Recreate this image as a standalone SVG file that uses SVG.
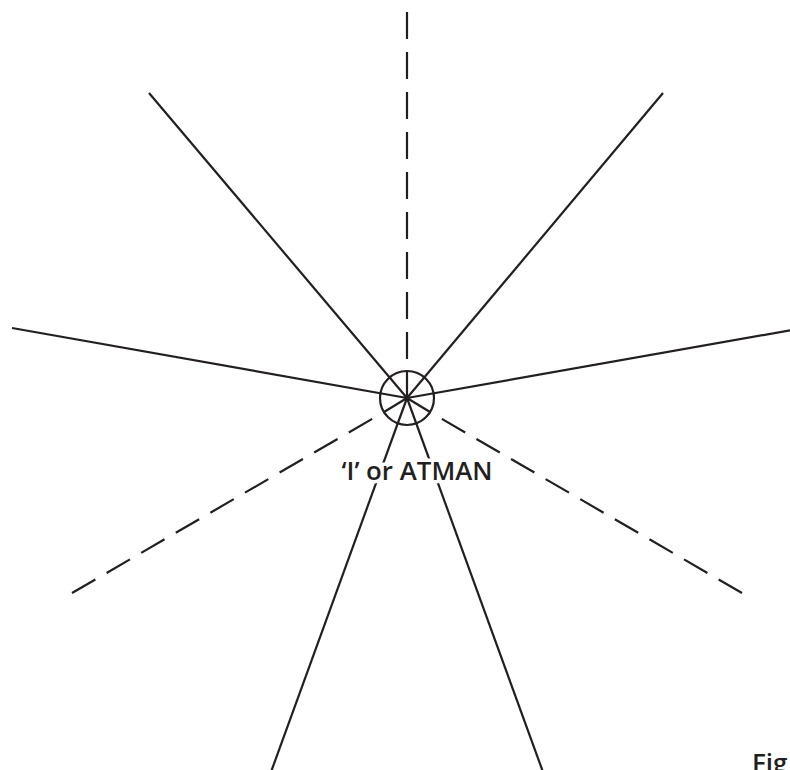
<svg xmlns="http://www.w3.org/2000/svg" width="790" height="770" viewBox="0 0 790 770">
<style>
.s{stroke:#231f20;stroke-width:2.2;fill:none;stroke-linecap:butt}
.d{stroke-dasharray:27 13}
.t{font-family:"Open Sans","Liberation Sans",Arial,sans-serif;font-weight:600;font-size:26px;fill:#231f20}
.h{stroke:#fff;stroke-width:7;stroke-linejoin:round;paint-order:stroke}
</style>
<rect width="790" height="770" fill="#fff"/>
<g id="connectors">
<line class="s" x1="149" y1="93" x2="407" y2="398"/>
<line class="s" x1="663" y1="93" x2="407" y2="398"/>
<line class="s" x1="12" y1="328" x2="407" y2="398"/>
<line class="s" x1="792" y1="330" x2="407" y2="398"/>
<line class="s" x1="271" y1="772" x2="407" y2="398"/>
<line class="s" x1="543" y1="772" x2="407" y2="398"/>
<line class="s d" x1="407" y1="12" x2="407" y2="371"/>
<line class="s d" x1="72" y1="593" x2="384" y2="412"/>
<line class="s d" x1="742" y1="593" x2="430" y2="412"/>
<line class="s" x1="407" y1="371" x2="407" y2="398"/>
<line class="s" x1="384" y1="412" x2="407" y2="398"/>
<line class="s" x1="430" y1="412" x2="407" y2="398"/>
</g>
<g id="atman">
<circle class="s" cx="407" cy="398" r="27"/>
<text class="t h" x="417" y="480" text-anchor="middle" textLength="151" lengthAdjust="spacingAndGlyphs">‘I’ or ATMAN</text>
</g>
<g id="caption">
<text class="t" x="752" y="772" font-weight="500" font-size="25">Fig</text>
</g>
</svg>
